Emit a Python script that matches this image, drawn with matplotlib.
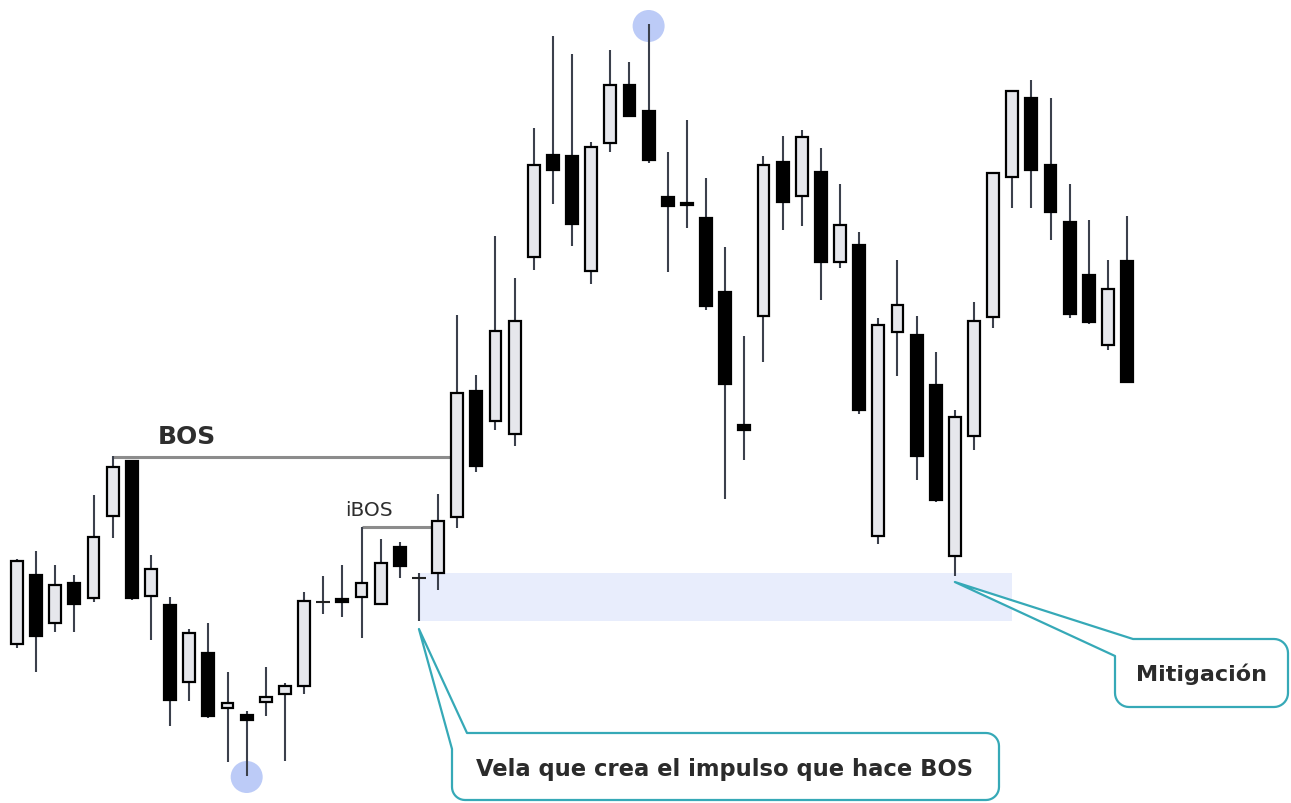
import numpy as np
import matplotlib
matplotlib.use("Agg")
import matplotlib.pyplot as plt
from matplotlib.patches import Rectangle, Ellipse, Polygon

# ---- data (price units) ----
opens  = [159, 228, 180, 220, 205, 287, 342, 207, 198, 121, 150, 95, 88, 101, 109, 117, 201, 204, 206, 199,
          256, 225, 230, 286, 412, 382, 369, 546, 648, 647, 532, 660, 718, 692, 606, 600, 585, 511, 378, 487,
          641, 607, 631, 541, 558, 267, 471, 468, 418, 247, 367, 486, 626, 705, 638, 581, 528, 458, 542]
highs  = [244, 252, 238, 228, 308, 347, 342, 248, 206, 174, 180, 131, 92, 136, 120, 211, 227, 238, 276, 264,
          261, 230, 309, 488, 428, 567, 525, 675, 767, 749, 661, 753, 741, 779, 651, 683, 625, 556, 467, 647,
          667, 673, 655, 619, 571, 485, 543, 487, 451, 393, 501, 630, 712, 723, 705, 619, 583, 543, 587]
lows   = [155, 131, 171, 171, 201, 265, 203, 163, 77, 102, 85, 41, 27, 87, 42, 109, 189, 186, 165, 199,
          225, 182, 213, 275, 331, 373, 357, 533, 599, 557, 519, 651, 686, 640, 531, 575, 493, 304, 343, 441,
          573, 577, 503, 535, 389, 259, 427, 323, 301, 227, 353, 475, 595, 595, 563, 485, 479, 453, 420]
closes = [242, 167, 218, 199, 266, 336, 205, 234, 103, 170, 87, 100, 83, 106, 117, 202, 201, 201, 220, 240,
          237, 225, 282, 410, 337, 472, 482, 638, 633, 579, 656, 718, 687, 643, 597, 598, 497, 419, 373, 638,
          601, 666, 541, 578, 393, 478, 498, 347, 303, 386, 482, 630, 712, 633, 591, 489, 481, 514, 421]

bos_label = "BOS"
ibos_label = "iBOS"
callout_impulse = "Vela que crea el impulso que hace BOS"
callout_mitig = "Mitigación"

# indices of the annotated candles
bos_idx, bos_end = 5, 22.85
ibos_idx, ibos_end = 18, 22
impulse_idx = 21
zone_end_idx = 52
mitig_idx = 49
top_idx, bottom_idx = 33, 12

# ---- figure ----
W, H = 1291, 804
fig = plt.figure(figsize=(W / 100, H / 100), dpi=100)
ax = fig.add_axes([0, 0, 1, 1])
ax.axis("off")
X0, DX = 17.0, 19.14
ax.set_xlim(-X0 / DX, (W - X0) / DX)
ax.set_ylim(0, H)


def px(x):
    return (x - X0) / DX


def py(y):
    return H - y


n = len(opens)
bw = 0.62
bull_face = "#e6e7ec"
wick_col = "#3b404c"

for i in range(n):
    o, h, l, c = opens[i], highs[i], lows[i], closes[i]
    ax.vlines(i, l, h, color=wick_col, lw=1.5, zorder=3)
    if o == c:
        ax.hlines(o, i - bw / 2 - 0.05, i + bw / 2 + 0.05, color="#222222", lw=1.5, zorder=4)
    else:
        face = bull_face if c > o else "black"
        ax.add_patch(Rectangle((i - bw / 2, min(o, c)), bw, abs(c - o), facecolor=face,
                               edgecolor="black", lw=1.6, zorder=4))

# mitigation zone
ax.add_patch(Rectangle((impulse_idx, lows[impulse_idx]), zone_end_idx - impulse_idx,
                       highs[impulse_idx] - lows[impulse_idx], facecolor="#e8edfc",
                       edgecolor="none", zorder=0))

# swing circles
for idx, yv in [(top_idx, highs[top_idx] - 2), (bottom_idx, lows[bottom_idx] - 1)]:
    ax.add_patch(Ellipse((idx, yv), 32 / DX, 32, facecolor="#bccbf7", edgecolor="none", zorder=1))

# BOS / iBOS lines
ax.hlines(highs[bos_idx] - 1, bos_idx, bos_end, color="#8c8c8c", lw=2.2, zorder=2)
ax.text(px(187), py(437), bos_label, ha="center", va="center", fontsize=18,
        fontweight="bold", color="#2e2e2e", family="DejaVu Sans")
ax.hlines(highs[ibos_idx], ibos_idx, ibos_end, color="#8c8c8c", lw=2.2, zorder=2)
ax.text(px(369), py(510), ibos_label, ha="center", va="center", fontsize=14.5,
        color="#2e2e2e", family="DejaVu Sans")


def arc(cx, cy, r, a0, a1, k=10):
    t = np.radians(np.linspace(a0, a1, k))
    return [(cx + r * np.cos(t_), cy + r * np.sin(t_)) for t_ in t]


def callout(tip, j_top, j_left, left, top, right, bottom, r=13):
    # pixel coordinates (y down)
    pts = [tip, j_top, (right - r, top)]
    pts += arc(right - r, top + r, r, -90, 0)
    pts += [(right, bottom - r)]
    pts += arc(right - r, bottom - r, r, 0, 90)
    pts += [(left + r, bottom)]
    pts += arc(left + r, bottom - r, r, 90, 180)
    pts += [j_left]
    data = [(px(x), py(y)) for x, y in pts]
    ax.add_patch(Polygon(data, closed=True, facecolor="white", edgecolor="#36a9b7",
                         lw=1.6, joinstyle="round", zorder=6))


teal_tip1 = (X0 + impulse_idx * DX, H - lows[impulse_idx] + 8)
callout(teal_tip1, (467, 734), (452, 750), 452, 734, 999, 801)
ax.text(px(725), py(770), callout_impulse, ha="center", va="center", fontsize=16.3,
        fontweight="bold", color="#2b2b2b", family="DejaVu Sans", zorder=7)

teal_tip2 = (X0 + mitig_idx * DX, H - lows[mitig_idx] + 6)
callout(teal_tip2, (1133, 640), (1115, 657), 1115, 640, 1288, 708, r=14)
ax.text(px(1202), py(674), callout_mitig, ha="center", va="center", fontsize=16,
        fontweight="bold", color="#2b2b2b", family="DejaVu Sans", zorder=7)

fig.savefig("out.png", dpi=100, facecolor="white")
